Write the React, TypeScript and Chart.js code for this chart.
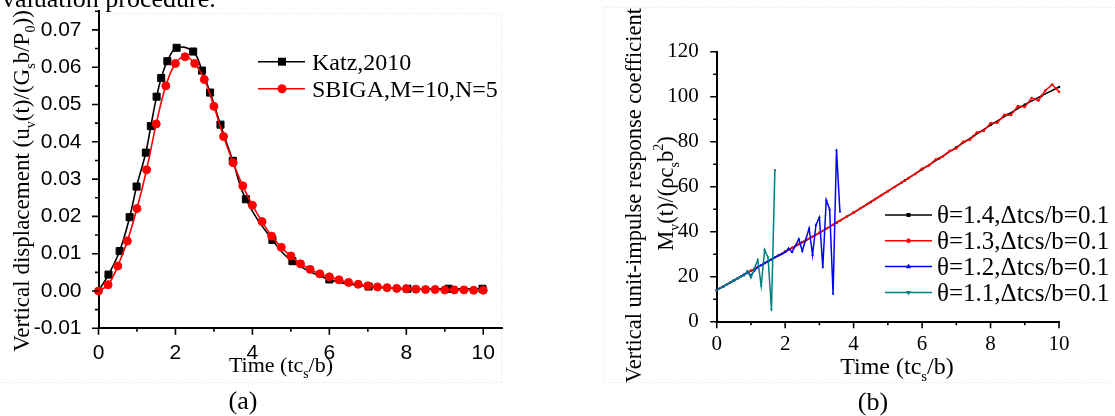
import React, { useEffect, useRef } from 'react';
import { Chart, registerables } from 'chart.js';

Chart.register(...registerables);

const W = 1115;
const H = 416;
const SERIF = '"Liberation Serif", "Times New Roman", serif';
const SANS = '"Liberation Sans", Arial, sans-serif';

// ---------------- Panel (a) data ----------------
const katzTime = [0, 0.26, 0.55, 0.81, 0.99, 1.23, 1.36, 1.51, 1.63, 1.79, 2.03, 2.46, 2.69, 2.9, 3.17, 3.49, 3.83, 4.52, 5.04, 6.0, 7.02, 8.03, 9.1, 9.98];
const katzDisp = [0, 0.0044, 0.0107, 0.0198, 0.028, 0.0371, 0.0442, 0.0521, 0.0571, 0.0616, 0.0652, 0.0642, 0.0591, 0.0532, 0.0446, 0.0349, 0.0246, 0.0137, 0.008, 0.0031, 0.0012, 0.0006, 0.0006, 0.0006];
const sbigaTime = [0, 0.25, 0.5, 0.75, 1, 1.25, 1.5, 1.75, 2, 2.25, 2.5, 2.75, 3, 3.25, 3.5, 3.75, 4, 4.25, 4.5, 4.75, 5, 5.25, 5.5, 5.75, 6, 6.25, 6.5, 6.75, 7, 7.25, 7.5, 7.75, 8, 8.25, 8.5, 8.75, 9, 9.25, 9.5, 9.75, 10];
const sbigaDisp = [0, 0.0017, 0.0067, 0.0134, 0.0221, 0.0325, 0.0448, 0.055, 0.061, 0.0628, 0.061, 0.0567, 0.0495, 0.0414, 0.0344, 0.0282, 0.023, 0.0186, 0.0147, 0.0117, 0.0094, 0.0073, 0.0058, 0.0046, 0.0038, 0.003, 0.0023, 0.0018, 0.0014, 0.0011, 0.0009, 0.0007, 0.0006, 0.0005, 0.0004, 0.0004, 0.0003, 0.0003, 0.0003, 0.0002, 0.0002];
const aXTicks = [0, 2, 4, 6, 8, 10];
const aXMinor = [1, 3, 5, 7, 9];
const aYTicks = [-0.01, 0, 0.01, 0.02, 0.03, 0.04, 0.05, 0.06, 0.07];
const aYMinor = [-0.005, 0.005, 0.015, 0.025, 0.035, 0.045, 0.055, 0.065, 0.075];
const aLegend = ['Katz,2010', 'SBIGA,M=10,N=5'];

// ---------------- Panel (b) data ----------------
const bTime14 = [0, 0.5, 1, 1.5, 2, 2.5, 3, 3.5, 4, 4.5, 5, 5.5, 6, 6.5, 7, 7.5, 8, 8.5, 9, 9.5, 10];
const theta14 = [14.0, 18.3, 22.6, 26.8, 31.1, 35.3, 39.5, 44.0, 48.5, 53.2, 58.0, 62.8, 67.7, 72.6, 77.5, 82.5, 87.4, 92.0, 96.5, 100.5, 104.3];
const bTime13 = [0, 0.2, 0.4, 0.6, 0.8, 1, 1.2, 1.4, 1.6, 1.8, 2, 2.2, 2.4, 2.6, 2.8, 3, 3.2, 3.4, 3.6, 3.8, 4, 4.2, 4.4, 4.6, 4.8, 5, 5.2, 5.4, 5.6, 5.8, 6, 6.2, 6.4, 6.6, 6.8, 7, 7.2, 7.4, 7.6, 7.8, 8, 8.2, 8.4, 8.6, 8.8, 9, 9.2, 9.4, 9.6, 9.8, 10];
const theta13 = [14.0, 15.7, 17.4, 19.2, 20.9, 22.6, 24.3, 26.0, 27.7, 29.4, 31.1, 32.8, 34.5, 36.1, 37.8, 39.5, 41.3, 43.1, 44.9, 46.7, 48.5, 50.4, 52.3, 54.2, 56.1, 58.0, 59.9, 61.8, 63.8, 65.7, 68.0, 69.4, 72.1, 73.3, 75.9, 77.0, 80.0, 80.9, 84.1, 84.8, 88.2, 88.4, 92.0, 91.9, 95.8, 95.4, 99.4, 98.3, 102.7, 105.4, 102.2];
const bTime12 = [0, 0.1, 0.2, 0.3, 0.4, 0.5, 0.6, 0.7, 0.8, 0.9, 1, 1.1, 1.2, 1.3, 1.4, 1.5, 1.6, 1.7, 1.8, 1.9, 2, 2.1, 2.2, 2.3, 2.4, 2.5, 2.6, 2.7, 2.8, 2.9, 3, 3.1, 3.2, 3.3, 3.4, 3.5, 3.6];
const theta12 = [14.0, 14.9, 15.7, 16.6, 17.4, 18.3, 19.1, 20.0, 20.9, 22.0, 20.5, 22.7, 24.3, 25.1, 26.0, 26.8, 27.7, 28.6, 29.4, 30.0, 30.9, 32.6, 30.9, 33.8, 36.7, 31.4, 36.4, 41.5, 29.6, 43.0, 46.4, 24.1, 54.1, 49.9, 12.3, 76.3, 48.9];
const bTime11 = [0, 0.1, 0.2, 0.3, 0.4, 0.5, 0.6, 0.7, 0.8, 0.9, 1, 1.1, 1.2, 1.3, 1.4, 1.5, 1.6, 1.7];
const theta11 = [14.0, 14.9, 15.7, 16.6, 17.4, 18.3, 19.1, 20.0, 20.6, 22.6, 19.6, 23.6, 27.4, 15.9, 31.9, 28.6, 5.2, 67.4];
const bXTicks = [0, 2, 4, 6, 8, 10];
const bXMinor = [1, 3, 5, 7, 9];
const bYTicks = [0, 20, 40, 60, 80, 100, 120];
const bYMinor = [10, 30, 50, 70, 90, 110];
const bLegend = ['θ=1.4,Δtcs/b=0.1', 'θ=1.3,Δtcs/b=0.1', 'θ=1.2,Δtcs/b=0.1', 'θ=1.1,Δtcs/b=0.1'];

// ---------------- layout (pixels) ----------------
const A = { left: 98.5, right: 502.5, top: 11.25, bottom: 328.3 };
const B = { left: 716.7, right: 1059, top: 51.7, bottom: 321.7 };

type Seg = { t: string; s?: 'sub' | 'sup' };

function richText(ctx: CanvasRenderingContext2D, segs: Seg[], cx: number, cy: number, size: number, rot = 0) {
  const small = size * 0.62;
  ctx.save();
  ctx.translate(cx, cy);
  if (rot) ctx.rotate(rot);
  ctx.fillStyle = '#000';
  ctx.textAlign = 'left';
  ctx.textBaseline = 'alphabetic';
  let total = 0;
  const ws = segs.map((g) => {
    ctx.font = `${g.s ? small : size}px ${SERIF}`;
    const w = ctx.measureText(g.t).width;
    total += w;
    return w;
  });
  let x = -total / 2;
  const base = size * 0.33;
  segs.forEach((g, i) => {
    ctx.font = `${g.s ? small : size}px ${SERIF}`;
    const dy = g.s === 'sub' ? size * 0.28 : g.s === 'sup' ? -size * 0.42 : 0;
    ctx.fillText(g.t, x, base + dy);
    x += ws[i];
  });
  ctx.restore();
}

function marker(ctx: CanvasRenderingContext2D, kind: string, x: number, y: number, r: number, color: string) {
  ctx.save();
  ctx.fillStyle = color;
  ctx.beginPath();
  if (kind === 'rect') {
    ctx.rect(x - r, y - r, 2 * r, 2 * r);
  } else if (kind === 'circle') {
    ctx.arc(x, y, r, 0, Math.PI * 2);
  } else if (kind === 'triUp') {
    ctx.moveTo(x, y - r * 1.15);
    ctx.lineTo(x + r, y + r * 0.6);
    ctx.lineTo(x - r, y + r * 0.6);
    ctx.closePath();
  } else {
    ctx.moveTo(x, y + r * 1.15);
    ctx.lineTo(x + r, y - r * 0.6);
    ctx.lineTo(x - r, y - r * 0.6);
    ctx.closePath();
  }
  ctx.fill();
  ctx.restore();
}

function drawTicks(chart: any, xMaj: number[], xMin: number[], yMaj: number[], yMin: number[]) {
  const { ctx, chartArea: a, scales } = chart;
  ctx.save();
  ctx.strokeStyle = '#000';
  ctx.lineWidth = 1.6;
  ctx.beginPath();
  const mj = 6.5;
  const mn = 3.5;
  xMaj.forEach((v) => { const p = scales.x.getPixelForValue(v); ctx.moveTo(p, a.bottom); ctx.lineTo(p, a.bottom + mj); });
  xMin.forEach((v) => { const p = scales.x.getPixelForValue(v); ctx.moveTo(p, a.bottom); ctx.lineTo(p, a.bottom + mn); });
  yMaj.forEach((v) => { const p = scales.y.getPixelForValue(v); ctx.moveTo(a.left, p); ctx.lineTo(a.left - mj, p); });
  yMin.forEach((v) => { const p = scales.y.getPixelForValue(v); ctx.moveTo(a.left, p); ctx.lineTo(a.left - mn, p); });
  ctx.stroke();
  ctx.restore();
}

function dotted(ctx: CanvasRenderingContext2D, pts: number[][]) {
  ctx.save();
  ctx.strokeStyle = '#e2e2e2';
  ctx.lineWidth = 1;
  ctx.setLineDash([1, 2]);
  ctx.beginPath();
  ctx.moveTo(pts[0][0], pts[0][1]);
  for (let i = 1; i < pts.length; i++) ctx.lineTo(pts[i][0], pts[i][1]);
  ctx.stroke();
  ctx.restore();
}

const decorA = {
  id: 'decorA',
  beforeDraw(chart: any) {
    const ctx = chart.ctx as CanvasRenderingContext2D;
    dotted(ctx, [[98, 13.5], [501.5, 13.5], [501.5, 382.5], [0, 382.5]]);
  },
  afterDraw(chart: any) {
    const ctx = chart.ctx as CanvasRenderingContext2D;
    drawTicks(chart, aXTicks, aXMinor, aYTicks, aYMinor);
    // cropped paragraph text at the very top
    ctx.save();
    ctx.fillStyle = '#000';
    ctx.font = `26px ${SERIF}`;
    ctx.textBaseline = 'alphabetic';
    ctx.fillText('valuation procedure.', 2, 6.5);
    ctx.restore();
    // axis titles
    richText(ctx, [{ t: 'Vertical displacement (u' }, { t: 'v', s: 'sub' }, { t: '(t)/(G' }, { t: 's', s: 'sub' }, { t: 'b/P' }, { t: '0', s: 'sub' }, { t: '))' }], 21, 181, 23, -Math.PI / 2);
    richText(ctx, [{ t: 'Time (tc' }, { t: 's', s: 'sub' }, { t: '/b)' }], 281, 365, 22);
    richText(ctx, [{ t: '(a)' }], 243, 400, 26);
    // legend
    const rows = [61.7, 88.7];
    const colors = ['#000000', '#ff0000'];
    const kinds = ['rect', 'circle'];
    const sizes = [4, 4.5];
    rows.forEach((y, i) => {
      ctx.save();
      ctx.strokeStyle = colors[i];
      ctx.lineWidth = 1.6;
      ctx.beginPath();
      ctx.moveTo(258, y);
      ctx.lineTo(305, y);
      ctx.stroke();
      ctx.restore();
      marker(ctx, kinds[i], 282, y, sizes[i], colors[i]);
      ctx.save();
      ctx.fillStyle = '#000';
      ctx.font = `24px ${SERIF}`;
      ctx.textBaseline = 'alphabetic';
      ctx.fillText(aLegend[i], 312, y + 8);
      ctx.restore();
    });
  },
};

const decorB = {
  id: 'decorB',
  beforeDraw(chart: any) {
    const ctx = chart.ctx as CanvasRenderingContext2D;
    dotted(ctx, [[1115, 7.5], [603.5, 7.5], [603.5, 382.5], [1115, 382.5]]);
  },
  afterDraw(chart: any) {
    const ctx = chart.ctx as CanvasRenderingContext2D;
    drawTicks(chart, bXTicks, bXMinor, bYTicks, bYMinor);
    richText(ctx, [{ t: 'Vertical unit-impulse response coefficient' }], 634, 195.5, 22.5, -Math.PI / 2);
    richText(ctx, [{ t: 'M' }, { t: 'v', s: 'sub' }, { t: '(t)/(ρc' }, { t: 's', s: 'sub' }, { t: 'b' }, { t: '2', s: 'sup' }, { t: ')' }], 665.5, 193.5, 22.5, -Math.PI / 2);
    richText(ctx, [{ t: 'Time (tc' }, { t: 's', s: 'sub' }, { t: '/b)' }], 897, 366, 24);
    richText(ctx, [{ t: '(b)' }], 873, 401, 26);
    const rows = [215, 240.8, 266.6, 292.5];
    const colors = ['#000000', '#ff0000', '#0000ff', '#008080'];
    const kinds = ['rect', 'circle', 'triUp', 'triDown'];
    const sizes = [2, 2.3, 2.6, 2.6];
    rows.forEach((y, i) => {
      ctx.save();
      ctx.strokeStyle = colors[i];
      ctx.lineWidth = 1.5;
      ctx.beginPath();
      ctx.moveTo(885, y);
      ctx.lineTo(932, y);
      ctx.stroke();
      ctx.restore();
      marker(ctx, kinds[i], 908.5, y, sizes[i], colors[i]);
      ctx.save();
      ctx.fillStyle = '#000';
      ctx.font = `25px ${SERIF}`;
      ctx.textBaseline = 'alphabetic';
      ctx.fillText(bLegend[i], 937, y + 8);
      ctx.restore();
    });
  },
};

function pts(xs: number[], ys: number[]) {
  return xs.map((x, i) => ({ x, y: ys[i] }));
}

function fixBox(w: number | null, h: number | null) {
  return (s: any) => {
    if (w !== null) s.width = w;
    if (h !== null) s.height = h;
    s.paddingLeft = 0;
    s.paddingRight = 0;
    s.paddingTop = 0;
    s.paddingBottom = 0;
  };
}

export default function App() {
  const refA = useRef<HTMLCanvasElement | null>(null);
  const refB = useRef<HTMLCanvasElement | null>(null);

  useEffect(() => {
    document.body.style.margin = '0';
    const chartA = new Chart(refA.current as HTMLCanvasElement, {
      type: 'line',
      data: {
        datasets: [
          {
            label: aLegend[1],
            data: pts(sbigaTime, sbigaDisp),
            borderColor: '#ff0000',
            backgroundColor: '#ff0000',
            pointBackgroundColor: '#ff0000',
            pointBorderColor: '#ff0000',
            borderWidth: 1.6,
            pointStyle: 'circle',
            pointRadius: 4,
            pointBorderWidth: 1,
            tension: 0.4,
            clip: false,
            order: 0,
          },
          {
            label: aLegend[0],
            data: pts(katzTime, katzDisp),
            borderColor: '#000000',
            backgroundColor: '#000000',
            pointBackgroundColor: '#000000',
            pointBorderColor: '#000000',
            borderWidth: 1.6,
            pointStyle: 'rect',
            pointRadius: (c: any) => (c.dataIndex === 0 ? 0 : 5),
            pointBorderWidth: 1,
            tension: 0.4,
            clip: false,
            order: 1,
          },
        ],
      } as any,
      options: {
        animation: false,
        responsive: false,
        events: [],
        layout: { padding: { left: 0, top: A.top, right: W - A.right, bottom: 0 } },
        plugins: { legend: { display: false }, tooltip: { enabled: false } },
        scales: {
          x: {
            type: 'linear',
            min: 0,
            max: 10.5,
            afterBuildTicks: (s: any) => { s.ticks = aXTicks.map((v) => ({ value: v })); },
            afterFit: fixBox(null, H - A.bottom),
            grid: { display: false },
            border: { display: true, color: '#000', width: 2 },
            ticks: { color: '#000', font: { family: SANS, size: 21 }, padding: 4, maxRotation: 0, autoSkip: false, callback: (v: any) => String(v) },
          },
          y: {
            type: 'linear',
            min: -0.01,
            max: 0.075,
            afterBuildTicks: (s: any) => { s.ticks = aYTicks.map((v) => ({ value: v })); },
            afterFit: fixBox(A.left, null),
            grid: { display: false },
            border: { display: true, color: '#000', width: 2 },
            ticks: { color: '#000', font: { family: SANS, size: 21 }, padding: 9, autoSkip: false, callback: (v: any) => Number(v).toFixed(2) },
          },
        },
      } as any,
      plugins: [decorA],
    });

    const thin = { borderWidth: 1.5, tension: 0, clip: false, pointBorderWidth: 0 };
    const chartB = new Chart(refB.current as HTMLCanvasElement, {
      type: 'line',
      data: {
        datasets: [
          { label: bLegend[0], data: pts(bTime14, theta14), borderColor: '#000000', pointBackgroundColor: '#000000', pointStyle: 'rect', pointRadius: 1.6, order: 3, ...thin },
          { label: bLegend[1], data: pts(bTime13, theta13), borderColor: '#ff0000', pointBackgroundColor: '#ff0000', pointStyle: 'circle', pointRadius: 1.3, order: 2, ...thin },
          { label: bLegend[2], data: pts(bTime12, theta12), borderColor: '#0000ff', pointBackgroundColor: '#0000ff', pointStyle: 'triangle', pointRadius: 1.6, order: 1, ...thin },
          { label: bLegend[3], data: pts(bTime11, theta11), borderColor: '#008080', pointBackgroundColor: '#008080', pointStyle: 'triangle', pointRotation: 180, pointRadius: 1.6, order: 0, ...thin },
        ],
      } as any,
      options: {
        animation: false,
        responsive: false,
        events: [],
        layout: { padding: { left: B.left - 60, top: B.top, right: W - B.right, bottom: 0 } },
        plugins: { legend: { display: false }, tooltip: { enabled: false } },
        scales: {
          x: {
            type: 'linear',
            min: 0,
            max: 10,
            afterBuildTicks: (s: any) => { s.ticks = bXTicks.map((v) => ({ value: v })); },
            afterFit: fixBox(null, H - B.bottom),
            grid: { display: false },
            border: { display: true, color: '#000', width: 2 },
            ticks: { color: '#000', font: { family: SERIF, size: 21 }, padding: 2, maxRotation: 0, autoSkip: false, callback: (v: any) => String(v) },
          },
          y: {
            type: 'linear',
            min: 0,
            max: 120,
            afterBuildTicks: (s: any) => { s.ticks = bYTicks.map((v) => ({ value: v })); },
            afterFit: fixBox(60, null),
            grid: { display: false },
            border: { display: true, color: '#000', width: 2 },
            ticks: { color: '#000', font: { family: SERIF, size: 21 }, padding: 10, autoSkip: false, callback: (v: any) => String(v) },
          },
        },
      } as any,
      plugins: [decorB],
    });

    return () => {
      chartA.destroy();
      chartB.destroy();
    };
  }, []);

  return (
    <div style={{ position: 'fixed', left: 0, top: 0, width: W, height: H, background: '#fff', overflow: 'hidden' }}>
      <canvas ref={refA} width={W} height={H} style={{ position: 'absolute', left: 0, top: 0 }} />
      <canvas ref={refB} width={W} height={H} style={{ position: 'absolute', left: 0, top: 0 }} />
    </div>
  );
}
